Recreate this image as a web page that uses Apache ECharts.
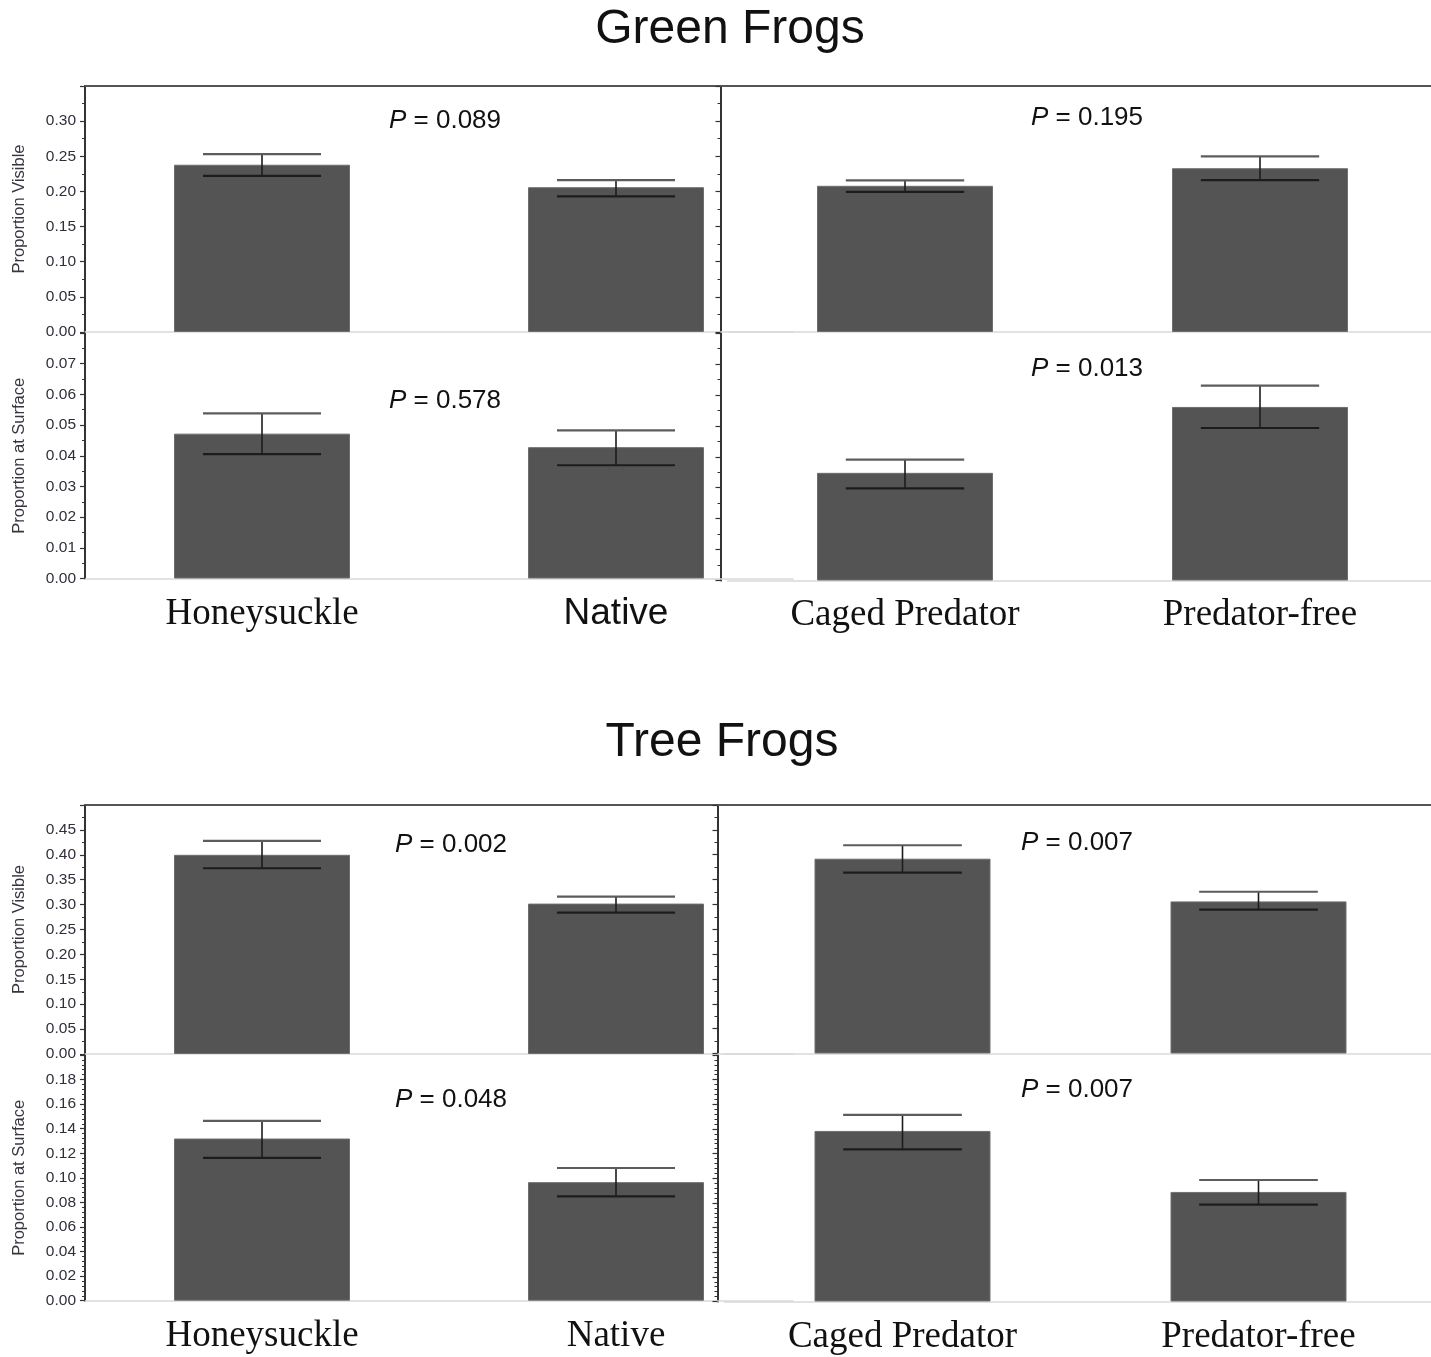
<!DOCTYPE html>
<html>
<head>
<meta charset="utf-8">
<script src="https://cdn.jsdelivr.net/npm/echarts@6/dist/echarts.min.js"></script>
<style>
html,body{margin:0;padding:0;background:#fff;}
#chart{width:1431px;height:1357px;}
</style>
</head>
<body>
<div id="chart"></div>
<script>
// ---------- DATA ----------
const habitatCategories = ['Honeysuckle', 'Native'];
const predatorCategories = ['Caged Predator', 'Predator-free'];

// Green frogs
const greenVisibleHabitatMean = [0.238, 0.206];
const greenVisibleHabitatLow  = [0.222, 0.193];
const greenVisibleHabitatHigh = [0.253, 0.216];
const greenVisiblePredatorMean = [0.208, 0.233];
const greenVisiblePredatorLow  = [0.1995, 0.216];
const greenVisiblePredatorHigh = [0.2157, 0.250];
const greenSurfaceHabitatMean = [0.0472, 0.0428];
const greenSurfaceHabitatLow  = [0.0405, 0.0369];
const greenSurfaceHabitatHigh = [0.0538, 0.0483];
const greenSurfacePredatorMean = [0.0348, 0.0561];
const greenSurfacePredatorLow  = [0.0298, 0.0493];
const greenSurfacePredatorHigh = [0.0391, 0.0630];

// Tree frogs
const treeVisibleHabitatMean = [0.400, 0.302];
const treeVisibleHabitatLow  = [0.373, 0.284];
const treeVisibleHabitatHigh = [0.428, 0.316];
const treeVisiblePredatorMean = [0.392, 0.306];
const treeVisiblePredatorLow  = [0.364, 0.2895];
const treeVisiblePredatorHigh = [0.419, 0.3255];
const treeSurfaceHabitatMean = [0.132, 0.0965];
const treeSurfaceHabitatLow  = [0.1163, 0.085];
const treeSurfaceHabitatHigh = [0.1463, 0.108];
const treeSurfacePredatorMean = [0.1384, 0.0889];
const treeSurfacePredatorLow  = [0.1235, 0.0786];
const treeSurfacePredatorHigh = [0.1514, 0.0986];

// P values (visible-habitat, visible-predator, surface-habitat, surface-predator)
const greenPValues = ['0.089', '0.195', '0.578', '0.013'];
const treePValues  = ['0.002', '0.007', '0.048', '0.007'];

// Axis scales
const visibleGreenMax = 0.35, visibleGreenStep = 0.05;
const surfaceGreenMax = 0.08, surfaceGreenStep = 0.01;
const visibleTreeMax = 0.50, visibleTreeStep = 0.05;
const surfaceTreeMax = 0.20, surfaceTreeStep = 0.02;

const groupTitles = ['Green Frogs', 'Tree Frogs'];
const yNames = ['Proportion Visible', 'Proportion at Surface'];

// ---------- STYLE / LAYOUT ----------
const SANS = 'Liberation Sans';
const SERIF = 'Liberation Serif';
const BAR = '#545454';

const panels = [
  // Green frogs
  {grid:{left:85, width:708, top:86, height:246}, cats:habitatCategories, mean:greenVisibleHabitatMean, low:greenVisibleHabitatLow, high:greenVisibleHabitatHigh, max:visibleGreenMax, step:visibleGreenStep, minor:2, yName:yNames[0], labels:true, xLabels:false, top:true, offset:0},
  {grid:{left:727.5, width:710, top:86, height:246}, cats:predatorCategories, mean:greenVisiblePredatorMean, low:greenVisiblePredatorLow, high:greenVisiblePredatorHigh, max:visibleGreenMax, step:visibleGreenStep, minor:2, yName:'', labels:false, xLabels:false, top:true, offset:7},
  {grid:{left:85, width:708, top:333, height:245.5}, cats:habitatCategories, mean:greenSurfaceHabitatMean, low:greenSurfaceHabitatLow, high:greenSurfaceHabitatHigh, max:surfaceGreenMax, step:surfaceGreenStep, minor:2, yName:yNames[1], labels:true, xLabels:true, labelFonts:[SERIF, SANS], margin:17, top:false, offset:0},
  {grid:{left:727.5, width:710, top:333, height:247.5}, cats:predatorCategories, mean:greenSurfacePredatorMean, low:greenSurfacePredatorLow, high:greenSurfacePredatorHigh, max:surfaceGreenMax, step:surfaceGreenStep, minor:2, yName:'', labels:false, xLabels:true, labelFonts:[SERIF, SERIF], margin:16, top:false, offset:7},
  // Tree frogs
  {grid:{left:85, width:708, top:805, height:249}, cats:habitatCategories, mean:treeVisibleHabitatMean, low:treeVisibleHabitatLow, high:treeVisibleHabitatHigh, max:visibleTreeMax, step:visibleTreeStep, minor:2, yName:yNames[0], labels:true, xLabels:false, top:true, offset:0},
  {grid:{left:724.5, width:712, top:805, height:248.5}, cats:predatorCategories, mean:treeVisiblePredatorMean, low:treeVisiblePredatorLow, high:treeVisiblePredatorHigh, max:visibleTreeMax, step:visibleTreeStep, minor:2, yName:'', labels:false, xLabels:false, top:true, offset:7},
  {grid:{left:85, width:708, top:1055, height:245.7}, cats:habitatCategories, mean:treeSurfaceHabitatMean, low:treeSurfaceHabitatLow, high:treeSurfaceHabitatHigh, max:surfaceTreeMax, step:surfaceTreeStep, minor:5, yName:yNames[1], labels:true, xLabels:true, labelFonts:[SERIF, SERIF], margin:17, top:false, offset:0},
  {grid:{left:724.5, width:712, top:1055, height:246.5}, cats:predatorCategories, mean:treeSurfacePredatorMean, low:treeSurfacePredatorLow, high:treeSurfacePredatorHigh, max:surfaceTreeMax, step:surfaceTreeStep, minor:5, yName:'', labels:false, xLabels:true, labelFonts:[SERIF, SERIF], margin:17, top:false, offset:7}
];

// P value label positions (centres)
const pPositions = [
  [445,121],[1087,118],[445,401],[1087,369],
  [451,845],[1077,843],[451,1100],[1077,1090]
];
const titlePositions = [[730,30],[722,743]];

function errorRender(params, api) {
  const x = api.value(0);
  const lo = api.coord([x, api.value(1)]);
  const hi = api.coord([x, api.value(2)]);
  const half = api.size([1, 0])[0] / 6;
  return {
    type: 'group',
    children: [
      {type:'line', shape:{x1:lo[0], y1:lo[1], x2:hi[0], y2:hi[1]}, style:{stroke:'#1c1c1c', lineWidth:1.6}},
      {type:'line', shape:{x1:hi[0]-half, y1:hi[1], x2:hi[0]+half, y2:hi[1]}, style:{stroke:'#5c5c5c', lineWidth:2.2}},
      {type:'line', shape:{x1:lo[0]-half, y1:lo[1], x2:lo[0]+half, y2:lo[1]}, style:{stroke:'#1c1c1c', lineWidth:2.2}}
    ]
  };
}

const grid = [], xAxis = [], yAxis = [], series = [];
panels.forEach((p, i) => {
  grid.push(Object.assign({containLabel:false, outerBoundsMode:'none'}, p.grid));
  const xi = xAxis.length;
  xAxis.push({
    type:'category', gridIndex:i, position:'bottom',
    data: p.cats.map((c, k) => p.xLabels ? {value:c, textStyle:{fontFamily:p.labelFonts[k]}} : c),
    axisLine:{show:true, lineStyle:{color:'#d9d9d9', width:1.5}},
    axisTick:{show:false},
    axisLabel:{show:p.xLabels, interval:0, fontSize:37, fontFamily:SERIF, color:'#111', margin:p.margin || 16},
    splitLine:{show:false}
  });
  if (p.top) {
    xAxis.push({
      type:'category', gridIndex:i, position:'top', data:p.cats,
      axisLine:{show:true, lineStyle:{color:'#555', width:2}},
      axisTick:{show:false}, axisLabel:{show:false}, splitLine:{show:false}
    });
  }
  yAxis.push({
    type:'value', gridIndex:i, min:0, max:p.max, interval:p.step, offset:p.offset,
    axisLine:{show:true, onZero:false, lineStyle:{color:'#333', width:2}},
    axisTick:{show:true, length:5, lineStyle:{color:'#333', width:1.2}},
    minorTick:{show:true, splitNumber:p.minor, length:3, lineStyle:{color:'#333', width:1}},
    splitLine:{show:false}, minorSplitLine:{show:false},
    axisLabel:{show:p.labels, showMaxLabel:false, formatter:v => v.toFixed(2), fontSize:15.5, fontFamily:SANS, color:'#332d3a', margin:9},
    name:p.yName, nameLocation:'middle', nameGap:57,
    nameTextStyle:{fontSize:16.5, fontFamily:SANS, color:'#3a3440'}
  });
  series.push({
    type:'bar', xAxisIndex:xi, yAxisIndex:i, data:p.mean, barWidth:176,
    itemStyle:{color:BAR, borderColor:'#6e6e6e', borderWidth:1},
    silent:true, animation:false
  });
  series.push({
    type:'custom', xAxisIndex:xi, yAxisIndex:i, renderItem:errorRender,
    encode:{x:0, y:[1,2]},
    data:p.mean.map((m, k) => [k, p.low[k], p.high[k]]),
    z:5, silent:true, animation:false
  });
});

const allP = greenPValues.concat(treePValues);
const graphic = [];
groupTitles.forEach((t, i) => {
  graphic.push({type:'text', x:titlePositions[i][0], y:titlePositions[i][1], style:{
    text:t, fontSize:48, fontFamily:SANS, fill:'#111', align:'center', verticalAlign:'middle'}});
});
allP.forEach((v, i) => {
  graphic.push({type:'text', x:pPositions[i][0], y:pPositions[i][1], z:10, style:{
    text:'{i|P} = ' + v, fontSize:26, fontFamily:SANS, fill:'#111', align:'center', verticalAlign:'middle',
    rich:{i:{fontStyle:'italic', fontSize:26, fontFamily:SANS, fill:'#111'}}}});
});

const chart = echarts.init(document.getElementById('chart'), null, {renderer:'canvas'});
chart.setOption({
  animation:false,
  backgroundColor:'#fff',
  grid, xAxis, yAxis, series, graphic
});
</script>
</body>
</html>
